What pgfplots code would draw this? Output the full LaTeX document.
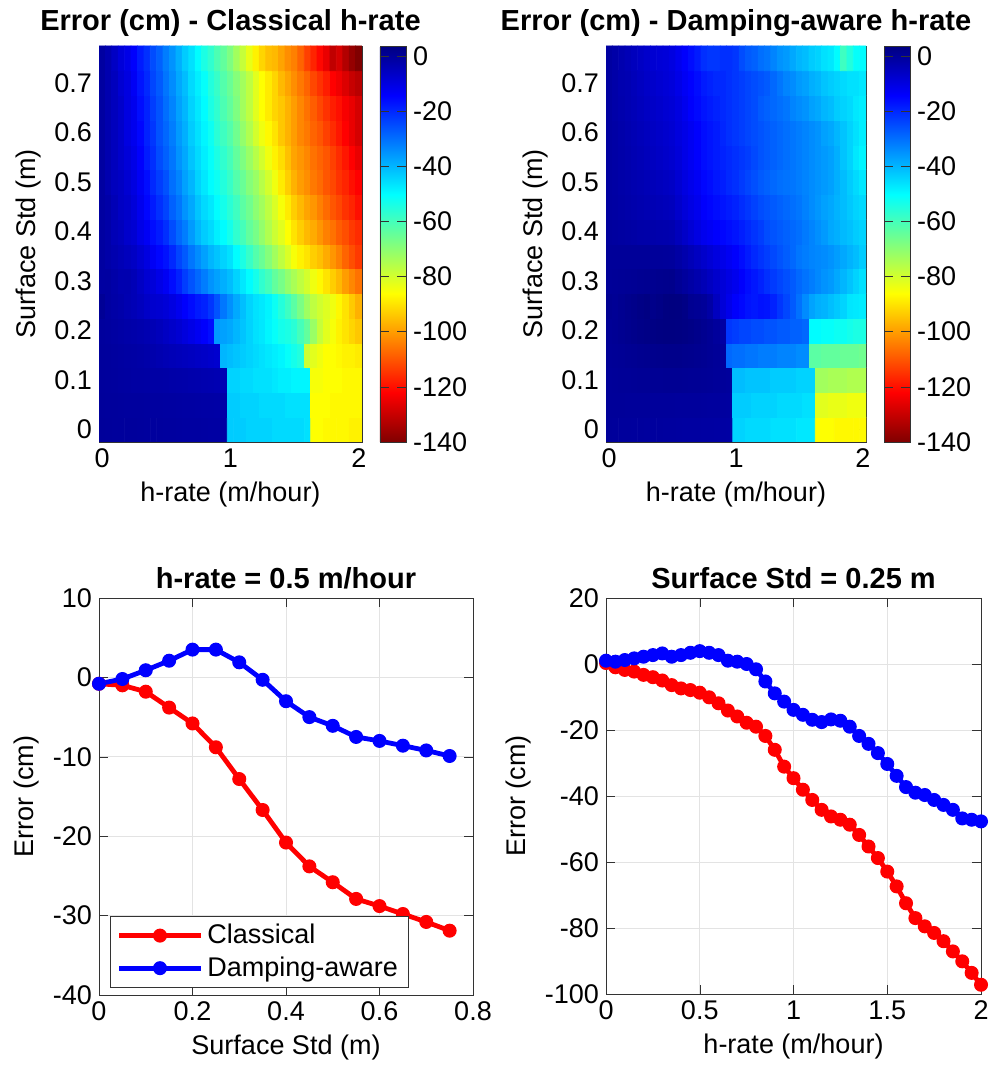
\documentclass[border=0pt]{standalone}
\usepackage{fontspec}
\setmainfont{Liberation Sans}
\usepackage{pgfplots}
\pgfplotsset{compat=1.18}

\newcommand\tfont{\fontsize{13.5}{16}\selectfont}
\newcommand\ttfont{\fontsize{14.5}{17}\selectfont\bfseries}

% jet, flipped: dark red at the low end, dark blue at the top
\pgfplotsset{
  colormap={revjet}{rgb255(0cm)=(128,0,0) rgb255(1cm)=(255,0,0) rgb255(3cm)=(255,255,0)
    rgb255(5cm)=(0,255,255) rgb255(7cm)=(0,0,255) rgb255(8cm)=(0,0,128)},
  base/.style={scale only axis, anchor=south west,
    axis line style={black!80}, tick style={black!80},
    tick label style={font=\tfont}, label style={font=\tfont},
    title style={font=\ttfont, yshift=-5pt},
    /pgf/number format/assume math mode=true},
  hm/.style={base, height=198pt,
    xmin=-0.5, xmax=40.5, ymin=-0.5, ymax=15.5,
    xtick={0,20,40}, xticklabels={0,1,2},
    ytick={0,2,4,6,8,10,12,14}, yticklabels={0,0.1,0.2,0.3,0.4,0.5,0.6,0.7},
    xlabel={h-rate (m/hour)}, ylabel={Surface Std (m)},
    point meta min=-140, point meta max=3.6,
    colorbar, colorbar shift/.style={xshift=9pt},
    colorbar style={at={(parent axis.north east)}, anchor=north west,
      width=13pt, ytick={-140,-120,-100,-80,-60,-40,-20,0},
      yticklabel style={font=\tfont}, axis line style={black!80}, tick style={black!80},
      /pgf/number format/assume math mode=true}},
  ln/.style={base, grid=major, major grid style={gray!22},
    every axis plot/.append style={line width=2.4pt, mark=*, mark size=3.2pt,
      mark options={line width=0.6pt}}},
}

\begin{document}
\begin{tikzpicture}
\useasboundingbox (0,0) rectangle (497.5pt,534.5pt);

% ---------- classical heatmap ----------
\begin{axis}[hm, at={(49.5pt,313.5pt)}, width=131.5pt,
  title={Error (cm) - Classical h-rate}]
\addplot[matrix plot*, mesh/cols=41, point meta=explicit]
 table[x=i, y=j, meta=z, row sep=\\] {i j z\\
0 0 -0.1\\1 0 -0.2\\2 0 -0.3\\3 0 -0.3\\4 0 -0.4\\5 0 -0.4\\6 0 -0.5\\7 0 -0.6\\8 0 -0.6\\9 0 -0.7\\10 0 -0.8\\11 0 -0.8\\12 0 -0.9\\13 0 -1\\14 0 -1\\15 0 -1.1\\16 0 -1.2\\17 0 -1.3\\18 0 -1.3\\19 0 -1.4\\20 0 -43\\21 0 -43\\22 0 -43\\23 0 -44\\24 0 -44\\25 0 -44\\26 0 -44\\27 0 -45\\28 0 -45\\29 0 -45\\30 0 -45\\31 0 -45\\32 0 -46\\33 0 -86\\34 0 -86\\35 0 -87\\36 0 -87\\37 0 -87\\38 0 -87\\39 0 -88\\40 0 -88\\
0 1 -0.2\\1 1 -0.3\\2 1 -0.4\\3 1 -0.5\\4 1 -0.6\\5 1 -0.6\\6 1 -0.7\\7 1 -0.8\\8 1 -0.9\\9 1 -0.9\\10 1 -1\\11 1 -1.1\\12 1 -1.2\\13 1 -1.3\\14 1 -1.4\\15 1 -1.5\\16 1 -1.6\\17 1 -1.7\\18 1 -1.8\\19 1 -1.9\\20 1 -43\\21 1 -43\\22 1 -44\\23 1 -44\\24 1 -44\\25 1 -45\\26 1 -45\\27 1 -45\\28 1 -45\\29 1 -46\\30 1 -46\\31 1 -46\\32 1 -46\\33 1 -86\\34 1 -86\\35 1 -86\\36 1 -87\\37 1 -87\\38 1 -87\\39 1 -87\\40 1 -87\\
0 2 -0.3\\1 2 -0.5\\2 2 -0.7\\3 2 -0.9\\4 2 -1.1\\5 2 -1.3\\6 2 -1.4\\7 2 -1.5\\8 2 -1.6\\9 2 -1.7\\10 2 -1.8\\11 2 -2\\12 2 -2.2\\13 2 -2.4\\14 2 -2.6\\15 2 -2.8\\16 2 -3\\17 2 -3.2\\18 2 -3.4\\19 2 -3.6\\20 2 -44\\21 2 -44\\22 2 -45\\23 2 -45\\24 2 -46\\25 2 -46\\26 2 -46\\27 2 -47\\28 2 -48\\29 2 -48\\30 2 -49\\31 2 -49\\32 2 -49\\33 2 -85\\34 2 -85\\35 2 -86\\36 2 -86\\37 2 -86\\38 2 -87\\39 2 -87\\40 2 -87\\
0 3 -0.3\\1 3 -0.5\\2 3 -0.8\\3 3 -1\\4 3 -1.3\\5 3 -1.5\\6 3 -1.8\\7 3 -2.2\\8 3 -2.6\\9 3 -3.2\\10 3 -3.8\\11 3 -4.2\\12 3 -4.6\\13 3 -5\\14 3 -5.5\\15 3 -6\\16 3 -6.5\\17 3 -7\\18 3 -7.5\\19 3 -40\\20 3 -41\\21 3 -42\\22 3 -43\\23 3 -44\\24 3 -45\\25 3 -46\\26 3 -47\\27 3 -48\\28 3 -49\\29 3 -51\\30 3 -53\\31 3 -55\\32 3 -79\\33 3 -82\\34 3 -84\\35 3 -86\\36 3 -86\\37 3 -87\\38 3 -88\\39 3 -88\\40 3 -89\\
0 4 -0.5\\1 4 -0.8\\2 4 -1.2\\3 4 -1.6\\4 4 -2\\5 4 -2.4\\6 4 -2.8\\7 4 -3.3\\8 4 -3.9\\9 4 -4.7\\10 4 -5.8\\11 4 -6.8\\12 4 -8\\13 4 -9.5\\14 4 -11\\15 4 -12.5\\16 4 -14\\17 4 -16\\18 4 -36\\19 4 -37\\20 4 -38\\21 4 -40\\22 4 -42\\23 4 -44\\24 4 -46\\25 4 -47\\26 4 -49\\27 4 -51\\28 4 -53\\29 4 -54\\30 4 -56\\31 4 -60\\32 4 -64\\33 4 -72\\34 4 -78\\35 4 -82\\36 4 -85\\37 4 -88\\38 4 -90\\39 4 -92\\40 4 -94\\
0 5 0.5\\1 5 -1\\2 5 -1.8\\3 5 -2.3\\4 5 -3.3\\5 5 -4\\6 5 -5\\7 5 -6.4\\8 5 -7.4\\9 5 -7.9\\10 5 -8.7\\11 5 -10.1\\12 5 -11.9\\13 5 -14.1\\14 5 -15.9\\15 5 -17.8\\16 5 -19\\17 5 -21.8\\18 5 -26\\19 5 -31.1\\20 5 -34.6\\21 5 -38.1\\22 5 -41.2\\23 5 -44.2\\24 5 -46.2\\25 5 -47.2\\26 5 -48.7\\27 5 -51.8\\28 5 -55.3\\29 5 -58.8\\30 5 -62.9\\31 5 -67.4\\32 5 -72.5\\33 5 -77\\34 5 -79.5\\35 5 -81.5\\36 5 -84\\37 5 -87.1\\38 5 -90.1\\39 5 -93.6\\40 5 -97.2\\
0 6 -1\\1 6 -1\\2 6 -2\\3 6 -3\\4 6 -3\\5 6 -4\\6 6 -6\\7 6 -8\\8 6 -9\\9 6 -11\\10 6 -12.8\\11 6 -16\\12 6 -19\\13 6 -23\\14 6 -26\\15 6 -29\\16 6 -32\\17 6 -35\\18 6 -37\\19 6 -39\\20 6 -41\\21 6 -44\\22 6 -47\\23 6 -50\\24 6 -53\\25 6 -57\\26 6 -60\\27 6 -64\\28 6 -67\\29 6 -71\\30 6 -74\\31 6 -77\\32 6 -80\\33 6 -84\\34 6 -87\\35 6 -90\\36 6 -93\\37 6 -96\\38 6 -100\\39 6 -103\\40 6 -106\\
0 7 -1\\1 7 -2\\2 7 -3\\3 7 -4\\4 7 -5\\5 7 -6\\6 7 -8\\7 7 -10\\8 7 -13\\9 7 -15\\10 7 -16.7\\11 7 -20\\12 7 -24\\13 7 -27\\14 7 -31\\15 7 -34\\16 7 -37\\17 7 -40\\18 7 -42\\19 7 -44\\20 7 -46\\21 7 -50\\22 7 -54\\23 7 -58\\24 7 -62\\25 7 -65\\26 7 -69\\27 7 -73\\28 7 -77\\29 7 -81\\30 7 -85\\31 7 -88\\32 7 -90\\33 7 -93\\34 7 -95\\35 7 -98\\36 7 -101\\37 7 -104\\38 7 -108\\39 7 -111\\40 7 -114\\
0 8 -1\\1 8 -2\\2 8 -4\\3 8 -5\\4 8 -7\\5 8 -8\\6 8 -11\\7 8 -13\\8 8 -16\\9 8 -18\\10 8 -20.8\\11 8 -25\\12 8 -29\\13 8 -32\\14 8 -36\\15 8 -40\\16 8 -43\\17 8 -45\\18 8 -48\\19 8 -50\\20 8 -53\\21 8 -57\\22 8 -60\\23 8 -64\\24 8 -67\\25 8 -71\\26 8 -75\\27 8 -79\\28 8 -82\\29 8 -86\\30 8 -90\\31 8 -93\\32 8 -96\\33 8 -98\\34 8 -101\\35 8 -104\\36 8 -106\\37 8 -109\\38 8 -111\\39 8 -114\\40 8 -116\\
0 9 -1\\1 9 -2\\2 9 -4\\3 9 -6\\4 9 -7\\5 9 -9\\6 9 -12\\7 9 -15\\8 9 -18\\9 9 -21\\10 9 -23.8\\11 9 -28\\12 9 -31\\13 9 -35\\14 9 -38\\15 9 -42\\16 9 -45\\17 9 -47\\18 9 -50\\19 9 -53\\20 9 -56\\21 9 -59\\22 9 -63\\23 9 -66\\24 9 -70\\25 9 -73\\26 9 -77\\27 9 -81\\28 9 -85\\29 9 -89\\30 9 -93\\31 9 -96\\32 9 -99\\33 9 -101\\34 9 -104\\35 9 -107\\36 9 -110\\37 9 -112\\38 9 -115\\39 9 -117\\40 9 -120\\
0 10 -1\\1 10 -3\\2 10 -5\\3 10 -6\\4 10 -8\\5 10 -10\\6 10 -13\\7 10 -16\\8 10 -20\\9 10 -23\\10 10 -25.8\\11 10 -30\\12 10 -33\\13 10 -37\\14 10 -40\\15 10 -44\\16 10 -47\\17 10 -50\\18 10 -52\\19 10 -55\\20 10 -58\\21 10 -62\\22 10 -65\\23 10 -69\\24 10 -72\\25 10 -76\\26 10 -80\\27 10 -84\\28 10 -89\\29 10 -93\\30 10 -97\\31 10 -100\\32 10 -102\\33 10 -105\\34 10 -107\\35 10 -110\\36 10 -112\\37 10 -115\\38 10 -117\\39 10 -120\\40 10 -122\\
0 11 -1\\1 11 -3\\2 11 -5\\3 11 -7\\4 11 -9\\5 11 -11\\6 11 -14\\7 11 -18\\8 11 -21\\9 11 -25\\10 11 -27.9\\11 11 -31\\12 11 -35\\13 11 -38\\14 11 -42\\15 11 -45\\16 11 -48\\17 11 -51\\18 11 -54\\19 11 -57\\20 11 -60\\21 11 -64\\22 11 -68\\23 11 -72\\24 11 -76\\25 11 -80\\26 11 -84\\27 11 -88\\28 11 -91\\29 11 -95\\30 11 -99\\31 11 -101\\32 11 -103\\33 11 -106\\34 11 -108\\35 11 -110\\36 11 -113\\37 11 -116\\38 11 -119\\39 11 -122\\40 11 -125\\
0 12 -1\\1 12 -3\\2 12 -5\\3 12 -7\\4 12 -10\\5 12 -12\\6 12 -15\\7 12 -19\\8 12 -22\\9 12 -26\\10 12 -28.8\\11 12 -32\\12 12 -36\\13 12 -39\\14 12 -43\\15 12 -46\\16 12 -49\\17 12 -52\\18 12 -56\\19 12 -59\\20 12 -62\\21 12 -66\\22 12 -71\\23 12 -75\\24 12 -80\\25 12 -84\\26 12 -87\\27 12 -90\\28 12 -94\\29 12 -97\\30 12 -100\\31 12 -103\\32 12 -105\\33 12 -108\\34 12 -110\\35 12 -113\\36 12 -116\\37 12 -119\\38 12 -122\\39 12 -125\\40 12 -128\\
0 13 -1\\1 13 -3\\2 13 -5\\3 13 -7\\4 13 -10\\5 13 -12\\6 13 -16\\7 13 -19\\8 13 -23\\9 13 -26\\10 13 -29.8\\11 13 -33\\12 13 -37\\13 13 -40\\14 13 -44\\15 13 -47\\16 13 -50\\17 13 -54\\18 13 -57\\19 13 -61\\20 13 -64\\21 13 -68\\22 13 -73\\23 13 -77\\24 13 -82\\25 13 -86\\26 13 -89\\27 13 -92\\28 13 -94\\29 13 -97\\30 13 -100\\31 13 -103\\32 13 -106\\33 13 -109\\34 13 -112\\35 13 -115\\36 13 -118\\37 13 -120\\38 13 -123\\39 13 -125\\40 13 -128\\
0 14 -1\\1 14 -3\\2 14 -5\\3 14 -8\\4 14 -10\\5 14 -13\\6 14 -17\\7 14 -20\\8 14 -24\\9 14 -27\\10 14 -30.8\\11 14 -34\\12 14 -38\\13 14 -41\\14 14 -45\\15 14 -48\\16 14 -51\\17 14 -55\\18 14 -58\\19 14 -62\\20 14 -65\\21 14 -69\\22 14 -73\\23 14 -77\\24 14 -82\\25 14 -86\\26 14 -89\\27 14 -92\\28 14 -96\\29 14 -99\\30 14 -102\\31 14 -105\\32 14 -108\\33 14 -112\\34 14 -115\\35 14 -118\\36 14 -122\\37 14 -124\\38 14 -127\\39 14 -130\\40 14 -132\\
0 15 -1\\1 15 -3\\2 15 -6\\3 15 -9\\4 15 -11\\5 15 -14\\6 15 -18\\7 15 -21\\8 15 -25\\9 15 -28\\10 15 -31.9\\11 15 -35\\12 15 -39\\13 15 -43\\14 15 -46\\15 15 -50\\16 15 -54\\17 15 -57\\18 15 -61\\19 15 -64\\20 15 -68\\21 15 -73\\22 15 -78\\23 15 -83\\24 15 -88\\25 15 -92\\26 15 -95\\27 15 -96\\28 15 -99\\29 15 -102\\30 15 -104\\31 15 -108\\32 15 -113\\33 15 -117\\34 15 -121\\35 15 -125\\36 15 -131\\37 15 -128\\38 15 -133\\39 15 -137\\40 15 -140\\
};
\end{axis}

% ---------- damping-aware heatmap ----------
\begin{axis}[hm, at={(303pt,313.5pt)}, width=130pt,
  title={Error (cm) - Damping-aware h-rate}]
\addplot[matrix plot*, mesh/cols=41, point meta=explicit]
 table[x=i, y=j, meta=z, row sep=\\] {i j z\\
0 0 -0.1\\1 0 -0.2\\2 0 -0.3\\3 0 -0.4\\4 0 -0.5\\5 0 -0.5\\6 0 -0.6\\7 0 -0.7\\8 0 -0.7\\9 0 -0.8\\10 0 -0.8\\11 0 -0.9\\12 0 -1\\13 0 -1\\14 0 -1.1\\15 0 -1.2\\16 0 -1.2\\17 0 -1.3\\18 0 -1.4\\19 0 -1.5\\20 0 -44\\21 0 -44\\22 0 -45\\23 0 -45\\24 0 -45\\25 0 -45\\26 0 -46\\27 0 -46\\28 0 -46\\29 0 -46\\30 0 -47\\31 0 -47\\32 0 -47\\33 0 -86\\34 0 -86\\35 0 -86\\36 0 -87\\37 0 -87\\38 0 -87\\39 0 -87\\40 0 -87\\
0 1 0\\1 1 0\\2 1 0\\3 1 -0.1\\4 1 -0.1\\5 1 -0.1\\6 1 -0.1\\7 1 -0.2\\8 1 -0.2\\9 1 -0.2\\10 1 -0.2\\11 1 -0.3\\12 1 -0.3\\13 1 -0.4\\14 1 -0.4\\15 1 -0.5\\16 1 -0.6\\17 1 -0.7\\18 1 -0.8\\19 1 -0.9\\20 1 -43\\21 1 -43\\22 1 -43\\23 1 -44\\24 1 -44\\25 1 -44\\26 1 -44\\27 1 -45\\28 1 -45\\29 1 -45\\30 1 -45\\31 1 -46\\32 1 -46\\33 1 -82\\34 1 -82\\35 1 -83\\36 1 -83\\37 1 -83\\38 1 -84\\39 1 -84\\40 1 -84\\
0 2 0.1\\1 2 0.2\\2 2 0.3\\3 2 0.4\\4 2 0.5\\5 2 0.6\\6 2 0.7\\7 2 0.8\\8 2 0.8\\9 2 0.9\\10 2 0.9\\11 2 0.9\\12 2 0.8\\13 2 0.7\\14 2 0.6\\15 2 0.5\\16 2 0.3\\17 2 0.1\\18 2 -0.1\\19 2 -0.3\\20 2 -41\\21 2 -41\\22 2 -42\\23 2 -42\\24 2 -42\\25 2 -42\\26 2 -43\\27 2 -43\\28 2 -43\\29 2 -43\\30 2 -44\\31 2 -44\\32 2 -44\\33 2 -73\\34 2 -73\\35 2 -74\\36 2 -74\\37 2 -74\\38 2 -75\\39 2 -75\\40 2 -75\\
0 3 0.3\\1 3 0.5\\2 3 0.7\\3 3 0.9\\4 3 1.1\\5 3 1.3\\6 3 1.5\\7 3 1.7\\8 3 1.9\\9 3 2\\10 3 2.1\\11 3 2\\12 3 1.8\\13 3 1.6\\14 3 1.3\\15 3 1\\16 3 0.6\\17 3 0.2\\18 3 -0.3\\19 3 -29\\20 3 -30\\21 3 -30\\22 3 -31\\23 3 -31\\24 3 -32\\25 3 -32\\26 3 -32\\27 3 -33\\28 3 -33\\29 3 -33\\30 3 -34\\31 3 -34\\32 3 -63\\33 3 -63\\34 3 -64\\35 3 -64\\36 3 -64\\37 3 -65\\38 3 -65\\39 3 -65\\40 3 -66\\
0 4 0.5\\1 4 0.8\\2 4 1.2\\3 4 1.6\\4 4 2\\5 4 2.4\\6 4 2.8\\7 4 3.1\\8 4 3.3\\9 4 3.4\\10 4 3.5\\11 4 3.3\\12 4 3\\13 4 2.6\\14 4 2\\15 4 1.4\\16 4 0.6\\17 4 -0.4\\18 4 -1.5\\19 4 -22\\20 4 -23\\21 4 -24\\22 4 -24\\23 4 -25\\24 4 -25\\25 4 -26\\26 4 -26\\27 4 -27\\28 4 -27\\29 4 -28\\30 4 -28\\31 4 -29\\32 4 -50\\33 4 -50\\34 4 -51\\35 4 -51\\36 4 -52\\37 4 -52\\38 4 -53\\39 4 -54\\40 4 -54\\
0 5 1\\1 5 0.7\\2 5 1.2\\3 5 1.7\\4 5 2.2\\5 5 2.7\\6 5 3.2\\7 5 2.2\\8 5 2.7\\9 5 3.4\\10 5 3.7\\11 5 3.4\\12 5 2.7\\13 5 1\\14 5 0.7\\15 5 0\\16 5 -1.6\\17 5 -5.3\\18 5 -8.9\\19 5 -11.4\\20 5 -13.9\\21 5 -15.4\\22 5 -16.9\\23 5 -17.6\\24 5 -16.8\\25 5 -17.2\\26 5 -19\\27 5 -21.8\\28 5 -24.2\\29 5 -27\\30 5 -30.3\\31 5 -33.9\\32 5 -37.3\\33 5 -39\\34 5 -39.7\\35 5 -41.2\\36 5 -42.7\\37 5 -44.2\\38 5 -46.8\\39 5 -47.2\\40 5 -47.7\\
0 6 0.2\\1 6 0.4\\2 6 0.5\\3 6 0.7\\4 6 0.8\\5 6 1\\6 6 1.2\\7 6 1.4\\8 6 1.6\\9 6 1.8\\10 6 1.9\\11 6 0.7\\12 6 -0.5\\13 6 -1.6\\14 6 -2.8\\15 6 -4\\16 6 -5.6\\17 6 -7.2\\18 6 -8.8\\19 6 -10.4\\20 6 -12\\21 6 -14\\22 6 -16\\23 6 -17.5\\24 6 -19\\25 6 -21\\26 6 -22.5\\27 6 -24\\28 6 -25.5\\29 6 -27\\30 6 -29\\31 6 -30.5\\32 6 -32\\33 6 -33.5\\34 6 -35\\35 6 -36\\36 6 -38\\37 6 -40\\38 6 -42\\39 6 -44\\40 6 -46\\
0 7 0\\1 7 0\\2 7 0\\3 7 0\\4 7 0\\5 7 0\\6 7 0\\7 7 -0.1\\8 7 -0.1\\9 7 -0.2\\10 7 -0.3\\11 7 -1.5\\12 7 -2.8\\13 7 -4.2\\14 7 -5.6\\15 7 -7\\16 7 -8.4\\17 7 -9.8\\18 7 -11.2\\19 7 -12.6\\20 7 -14\\21 7 -16\\22 7 -18\\23 7 -20\\24 7 -21.5\\25 7 -23\\26 7 -24.5\\27 7 -26\\28 7 -27.5\\29 7 -29\\30 7 -31\\31 7 -32\\32 7 -33\\33 7 -33.5\\34 7 -34\\35 7 -35\\36 7 -36.5\\37 7 -38\\38 7 -39.5\\39 7 -41\\40 7 -43\\
0 8 -0.5\\1 8 -0.8\\2 8 -1.1\\3 8 -1.4\\4 8 -1.7\\5 8 -2\\6 8 -2.2\\7 8 -2.4\\8 8 -2.6\\9 8 -2.8\\10 8 -3\\11 8 -4.8\\12 8 -6.6\\13 8 -8.4\\14 8 -10.2\\15 8 -12\\16 8 -13\\17 8 -14\\18 8 -15\\19 8 -16\\20 8 -17\\21 8 -18.5\\22 8 -20\\23 8 -21.5\\24 8 -23\\25 8 -25\\26 8 -26\\27 8 -27\\28 8 -28\\29 8 -29\\30 8 -30\\31 8 -31.5\\32 8 -33\\33 8 -34.5\\34 8 -36\\35 8 -38\\36 8 -39\\37 8 -40.5\\38 8 -41.5\\39 8 -43\\40 8 -44\\
0 9 -1\\1 9 -1.4\\2 9 -1.8\\3 9 -2.2\\4 9 -2.6\\5 9 -3\\6 9 -3.4\\7 9 -3.8\\8 9 -4.2\\9 9 -4.6\\10 9 -5\\11 9 -7\\12 9 -9\\13 9 -10.5\\14 9 -12\\15 9 -14\\16 9 -15\\17 9 -16\\18 9 -17\\19 9 -18\\20 9 -19\\21 9 -20.5\\22 9 -22\\23 9 -23.5\\24 9 -25\\25 9 -26\\26 9 -27\\27 9 -28\\28 9 -29\\29 9 -30\\30 9 -31\\31 9 -32.5\\32 9 -34\\33 9 -35.5\\34 9 -37\\35 9 -38\\36 9 -39.5\\37 9 -41\\38 9 -42.5\\39 9 -44\\40 9 -45\\
0 10 -1\\1 10 -1.5\\2 10 -2\\3 10 -2.5\\4 10 -3\\5 10 -3.5\\6 10 -4\\7 10 -4.5\\8 10 -5\\9 10 -5.6\\10 10 -6.1\\11 10 -8\\12 10 -10\\13 10 -11.5\\14 10 -13\\15 10 -15\\16 10 -16\\17 10 -17.5\\18 10 -18.5\\19 10 -20\\20 10 -21\\21 10 -22.5\\22 10 -24\\23 10 -25.5\\24 10 -27\\25 10 -28\\26 10 -29\\27 10 -30\\28 10 -30.5\\29 10 -31\\30 10 -32\\31 10 -33\\32 10 -34\\33 10 -35\\34 10 -36\\35 10 -37\\36 10 -39\\37 10 -41\\38 10 -43\\39 10 -45\\40 10 -47\\
0 11 -1\\1 11 -1.6\\2 11 -2.2\\3 11 -2.8\\4 11 -3.4\\5 11 -4\\6 11 -4.7\\7 11 -5.4\\8 11 -6.1\\9 11 -6.8\\10 11 -7.5\\11 11 -9\\12 11 -11\\13 11 -12.5\\14 11 -14\\15 11 -16\\16 11 -17\\17 11 -18\\18 11 -19\\19 11 -20\\20 11 -21\\21 11 -22\\22 11 -23\\23 11 -24.5\\24 11 -26\\25 11 -27\\26 11 -28\\27 11 -29\\28 11 -30\\29 11 -31\\30 11 -32\\31 11 -33\\32 11 -34\\33 11 -35\\34 11 -36\\35 11 -37\\36 11 -39\\37 11 -42\\38 11 -44\\39 11 -47\\40 11 -49\\
0 12 -1\\1 12 -1.7\\2 12 -2.4\\3 12 -3.1\\4 12 -3.8\\5 12 -4.5\\6 12 -5.2\\7 12 -5.9\\8 12 -6.6\\9 12 -7.3\\10 12 -8\\11 12 -9.5\\12 12 -11\\13 12 -12.5\\14 12 -14\\15 12 -16\\16 12 -17\\17 12 -18\\18 12 -19.5\\19 12 -21\\20 12 -22\\21 12 -23\\22 12 -24\\23 12 -25\\24 12 -26\\25 12 -27\\26 12 -28\\27 12 -29\\28 12 -30\\29 12 -31\\30 12 -32\\31 12 -33\\32 12 -34\\33 12 -35\\34 12 -37\\35 12 -38\\36 12 -40\\37 12 -42\\38 12 -44\\39 12 -46\\40 12 -48\\
0 13 -1\\1 13 -2\\2 13 -2.8\\3 13 -3.5\\4 13 -4.2\\5 13 -5\\6 13 -5.8\\7 13 -6.5\\8 13 -7.2\\9 13 -8\\10 13 -8.6\\11 13 -10\\12 13 -12\\13 13 -14\\14 13 -15.5\\15 13 -17\\16 13 -18\\17 13 -19\\18 13 -20\\19 13 -21\\20 13 -22\\21 13 -23\\22 13 -24\\23 13 -25\\24 13 -27\\25 13 -28\\26 13 -29\\27 13 -30\\28 13 -31\\29 13 -33\\30 13 -34\\31 13 -35\\32 13 -37\\33 13 -38\\34 13 -40\\35 13 -41\\36 13 -43\\37 13 -44\\38 13 -45\\39 13 -47\\40 13 -48\\
0 14 -1\\1 14 -2\\2 14 -3\\3 14 -3.5\\4 14 -4.5\\5 14 -5.5\\6 14 -6.5\\7 14 -7\\8 14 -7.8\\9 14 -8.5\\10 14 -9.2\\11 14 -11\\12 14 -13\\13 14 -14.5\\14 14 -16\\15 14 -18\\16 14 -19\\17 14 -20\\18 14 -20\\19 14 -21\\20 14 -22\\21 14 -23\\22 14 -24\\23 14 -25\\24 14 -26\\25 14 -27\\26 14 -29\\27 14 -31\\28 14 -33\\29 14 -34\\30 14 -36\\31 14 -37\\32 14 -39\\33 14 -40\\34 14 -42\\35 14 -43\\36 14 -44\\37 14 -45\\38 14 -46\\39 14 -46\\40 14 -47\\
0 15 -1\\1 15 -2\\2 15 -3\\3 15 -4\\4 15 -5\\5 15 -6\\6 15 -7\\7 15 -8\\8 15 -8.5\\9 15 -9\\10 15 -9.9\\11 15 -12\\12 15 -14\\13 15 -16\\14 15 -18\\15 15 -21\\16 15 -22\\17 15 -22\\18 15 -21\\19 15 -21\\20 15 -22\\21 15 -25\\22 15 -27\\23 15 -28\\24 15 -30\\25 15 -31\\26 15 -33\\27 15 -35\\28 15 -36\\29 15 -38\\30 15 -40\\31 15 -41\\32 15 -43\\33 15 -44\\34 15 -46\\35 15 -47\\36 15 -50\\37 15 -59\\38 15 -55\\39 15 -51\\40 15 -50\\
};
\end{axis}

% ---------- h-rate = 0.5 ----------
\begin{axis}[ln, at={(49.5pt,37pt)}, width=187pt, height=198.5pt,
  xmin=0, xmax=0.8, ymin=-40, ymax=10,
  xtick={0,0.2,0.4,0.6,0.8}, ytick={-40,-30,-20,-10,0,10},
  xlabel={Surface Std (m)}, ylabel={Error (cm)},
  title={h-rate = 0.5 m/hour},
  legend style={at={(0.03,0.018)}, anchor=south west, font=\tfont,
    draw=black!80, cells={anchor=west}, row sep=1pt},
  legend image code/.code={\draw[mark repeat=2, mark phase=2, #1]
    plot coordinates {(0cm,0cm) (0.72cm,0cm) (1.44cm,0cm)};}]
\addplot[red] coordinates {(0,-0.8) (0.05,-1.0) (0.1,-1.8) (0.15,-3.8) (0.2,-5.8) (0.25,-8.8) (0.3,-12.8) (0.35,-16.7) (0.4,-20.8) (0.45,-23.8) (0.5,-25.8) (0.55,-27.9) (0.6,-28.8) (0.65,-29.8) (0.7,-30.8) (0.75,-31.9)};
\addlegendentry{Classical}
\addplot[blue] coordinates {(0,-0.8) (0.05,-0.2) (0.1,0.9) (0.15,2.1) (0.2,3.5) (0.25,3.5) (0.3,1.9) (0.35,-0.3) (0.4,-3.0) (0.45,-5.0) (0.5,-6.1) (0.55,-7.5) (0.6,-8.0) (0.65,-8.6) (0.7,-9.2) (0.75,-9.9)};
\addlegendentry{Damping-aware}
\end{axis}

% ---------- Surface Std = 0.25 ----------
\begin{axis}[ln, at={(303pt,37.5pt)}, width=187.5pt, height=198pt,
  xmin=0, xmax=2, ymin=-100, ymax=20,
  xtick={0,0.5,1,1.5,2}, ytick={-100,-80,-60,-40,-20,0,20},
  xlabel={h-rate (m/hour)}, ylabel={Error (cm)},
  title={Surface Std = 0.25 m}]
\addplot[red] coordinates {(0,0.3) (0.05,-1.0) (0.1,-1.8) (0.15,-2.3) (0.2,-3.3) (0.25,-4.0) (0.3,-5.0) (0.35,-6.4) (0.4,-7.4) (0.45,-7.9) (0.5,-8.7) (0.55,-10.1) (0.6,-11.9) (0.65,-14.1) (0.7,-15.9) (0.75,-17.8) (0.8,-19.0) (0.85,-21.8) (0.9,-26.0) (0.95,-31.1) (1,-34.6) (1.05,-38.1) (1.1,-41.2) (1.15,-44.2) (1.2,-46.2) (1.25,-47.2) (1.3,-48.7) (1.35,-51.8) (1.4,-55.3) (1.45,-58.8) (1.5,-62.9) (1.55,-67.4) (1.6,-72.5) (1.65,-77.0) (1.7,-79.5) (1.75,-81.5) (1.8,-84.0) (1.85,-87.1) (1.9,-90.1) (1.95,-93.6) (2,-97.2)};
\addplot[blue] coordinates {(0,1.0) (0.05,0.7) (0.1,1.2) (0.15,1.7) (0.2,2.2) (0.25,2.7) (0.3,3.2) (0.35,2.2) (0.4,2.7) (0.45,3.4) (0.5,3.9) (0.55,3.4) (0.6,2.7) (0.65,1.0) (0.7,0.7) (0.75,0.0) (0.8,-1.6) (0.85,-5.3) (0.9,-8.9) (0.95,-11.4) (1,-13.9) (1.05,-15.4) (1.1,-16.9) (1.15,-17.6) (1.2,-16.8) (1.25,-17.2) (1.3,-19.0) (1.35,-21.8) (1.4,-24.2) (1.45,-27.0) (1.5,-30.3) (1.55,-33.9) (1.6,-37.3) (1.65,-39.0) (1.7,-39.7) (1.75,-41.2) (1.8,-42.7) (1.85,-44.2) (1.9,-46.8) (1.95,-47.2) (2,-47.7)};
\end{axis}
\end{tikzpicture}
\end{document}
